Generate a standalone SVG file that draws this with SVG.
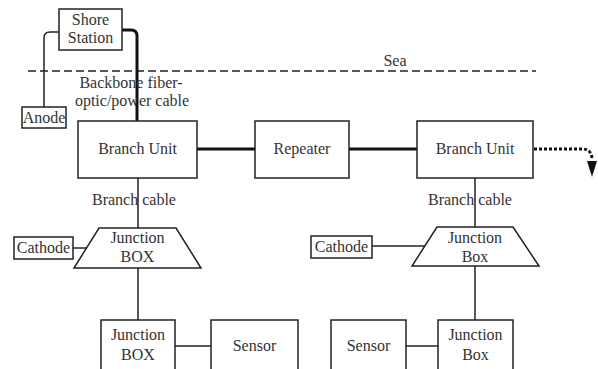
<svg xmlns="http://www.w3.org/2000/svg" width="598" height="369" viewBox="0 0 598 369">
<defs>
<style>
.box{fill:#fff;stroke:#222;stroke-width:1.5}
.thin{fill:none;stroke:#222;stroke-width:1.5}
.thick{fill:none;stroke:#111;stroke-width:3}
</style>
</defs>
<rect width="598" height="369" fill="#fff"/>
<g id="sea">
<line x1="28" y1="71" x2="536" y2="71" stroke="#222" stroke-width="1.3" stroke-dasharray="8 4"/>
<text x="395" y="66" font-family="Liberation Serif" font-size="16" fill="#333" text-anchor="middle">Sea</text>
</g>
<g id="connectors">
<path class="thin" d="M59,32 H50 Q44,32 44,38 V107"/>
<path class="thick" d="M122,30 H131 Q137,30 137,36 V121"/>
<line class="thick" x1="197" y1="149" x2="255" y2="149"/>
<line class="thick" x1="349" y1="149" x2="417" y2="149"/>
<path d="M534,149 H582 Q591,149 592,158" fill="none" stroke="#111" stroke-width="3" stroke-dasharray="3 2"/>
<polygon points="587,161 597,161 592,177" fill="#111"/>
<line class="thin" x1="138" y1="178" x2="138" y2="228"/>
<line class="thin" x1="73" y1="248" x2="87" y2="248"/>
<line class="thin" x1="138" y1="268" x2="138" y2="320"/>
<line class="thin" x1="175" y1="346" x2="211" y2="346"/>
<line class="thin" x1="475" y1="178" x2="475" y2="227"/>
<line class="thin" x1="372" y1="246" x2="425" y2="246"/>
<line class="thin" x1="475" y1="266" x2="475" y2="320"/>
<line class="thin" x1="406" y1="346" x2="438" y2="346"/>
<text x="131" y="88" font-family="Liberation Serif" font-size="16" fill="#333" text-anchor="middle">Backbone fiber-</text>
<text x="132" y="106" font-family="Liberation Serif" font-size="16" fill="#333" text-anchor="middle">optic/power cable</text>
<text x="134" y="205" font-family="Liberation Serif" font-size="16" fill="#333" text-anchor="middle">Branch cable</text>
<text x="470" y="205" font-family="Liberation Serif" font-size="16" fill="#333" text-anchor="middle">Branch cable</text>
</g>
<g id="shore">
<rect class="box" x="59" y="9" width="63" height="41"/>
<text x="90.5" y="25" font-family="Liberation Serif" font-size="16" fill="#333" text-anchor="middle">Shore</text>
<text x="90.5" y="43" font-family="Liberation Serif" font-size="16" fill="#333" text-anchor="middle">Station</text>
</g>
<g id="anode">
<rect class="box" x="22" y="107" width="44" height="21"/>
<text x="44" y="123" font-family="Liberation Serif" font-size="16" fill="#333" text-anchor="middle">Anode</text>
</g>
<g id="bu1">
<rect class="box" x="78" y="121" width="119" height="57"/>
<text x="137.5" y="154" font-family="Liberation Serif" font-size="16" fill="#333" text-anchor="middle">Branch Unit</text>
</g>
<g id="repeater">
<rect class="box" x="255" y="121" width="94" height="57"/>
<text x="302" y="154" font-family="Liberation Serif" font-size="16" fill="#333" text-anchor="middle">Repeater</text>
</g>
<g id="bu2">
<rect class="box" x="417" y="121" width="116" height="57"/>
<text x="475" y="154" font-family="Liberation Serif" font-size="16" fill="#333" text-anchor="middle">Branch Unit</text>
</g>
<g id="jb1">
<polygon class="box" points="99,228 176,228 201,268 74,268"/>
<text x="137.5" y="243" font-family="Liberation Serif" font-size="16" fill="#333" text-anchor="middle">Junction</text>
<text x="137.5" y="262" font-family="Liberation Serif" font-size="16" fill="#333" text-anchor="middle">BOX</text>
</g>
<g id="cathode1">
<rect class="box" x="14" y="237" width="59" height="22"/>
<text x="43.5" y="253" font-family="Liberation Serif" font-size="16" fill="#333" text-anchor="middle">Cathode</text>
</g>
<g id="jb2">
<rect class="box" x="101" y="320" width="74" height="60"/>
<text x="138" y="340" font-family="Liberation Serif" font-size="16" fill="#333" text-anchor="middle">Junction</text>
<text x="138" y="360" font-family="Liberation Serif" font-size="16" fill="#333" text-anchor="middle">BOX</text>
</g>
<g id="sensor1">
<rect class="box" x="211" y="320" width="87" height="60"/>
<text x="254.5" y="351" font-family="Liberation Serif" font-size="16" fill="#333" text-anchor="middle">Sensor</text>
</g>
<g id="jb3">
<polygon class="box" points="437,227 513,227 539,266 412,266"/>
<text x="475" y="243" font-family="Liberation Serif" font-size="16" fill="#333" text-anchor="middle">Junction</text>
<text x="475" y="262" font-family="Liberation Serif" font-size="16" fill="#333" text-anchor="middle">Box</text>
</g>
<g id="cathode2">
<rect class="box" x="311" y="236" width="61" height="22"/>
<text x="341.5" y="252" font-family="Liberation Serif" font-size="16" fill="#333" text-anchor="middle">Cathode</text>
</g>
<g id="jb4">
<rect class="box" x="438" y="320" width="75" height="60"/>
<text x="475.5" y="340" font-family="Liberation Serif" font-size="16" fill="#333" text-anchor="middle">Junction</text>
<text x="475.5" y="360" font-family="Liberation Serif" font-size="16" fill="#333" text-anchor="middle">Box</text>
</g>
<g id="sensor2">
<rect class="box" x="331" y="320" width="75" height="60"/>
<text x="368.5" y="351" font-family="Liberation Serif" font-size="16" fill="#333" text-anchor="middle">Sensor</text>
</g>
</svg>
